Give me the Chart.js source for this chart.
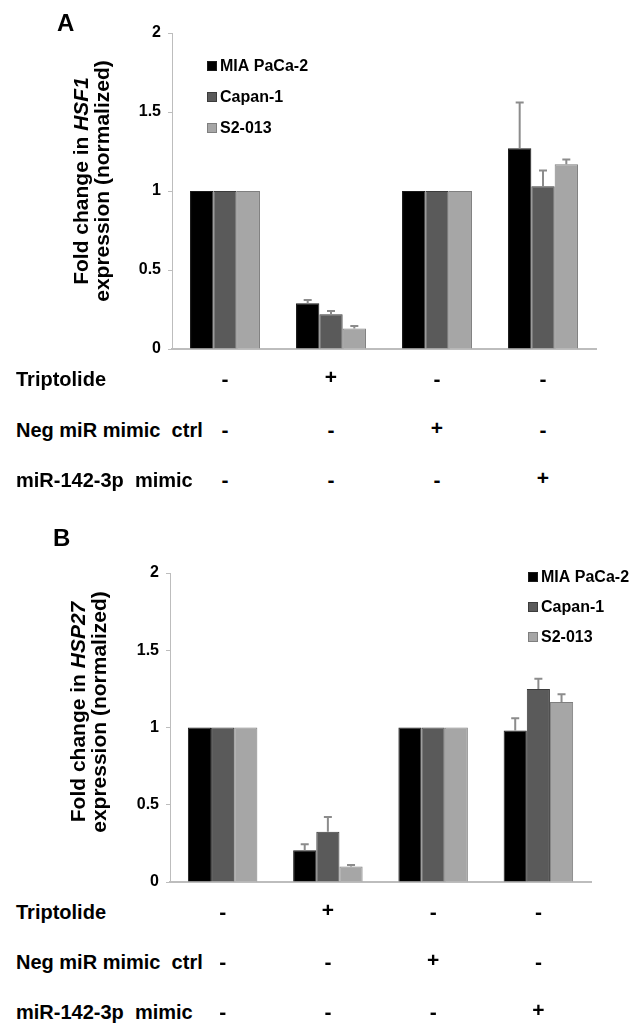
<!DOCTYPE html>
<html>
<head>
<meta charset="utf-8">
<script src="https://cdn.jsdelivr.net/npm/chart.js@4"></script>
<style>
  body { margin: 0; background: #fff; width: 638px; height: 1025px; position: relative; overflow: hidden;
         font-family: "Liberation Sans", Arial, sans-serif; font-weight: bold; color: #000; }
  .wrap { position: absolute; left: 0; width: 638px; }
  .letter { position: absolute; font-size: 24px; line-height: 24px; }
  .cell { position: absolute; font-size: 20px; line-height: 24px; white-space: pre; }
  .sign { position: absolute; width: 30px; text-align: center; font-size: 21px; line-height: 24px; }
</style>
</head>
<body>
<div class="wrap" style="top:0;height:370px"><canvas id="chartA"></canvas></div>
<div class="wrap" style="top:520px;height:380px"><canvas id="chartB"></canvas></div>
<div class="letter" style="left:57px;top:11px">A</div>
<div class="letter" style="left:53px;top:526px">B</div>
<div id="tableA"></div>
<div id="tableB"></div>
<script>
// data
let categories = ['Control', 'Triptolide', 'Neg miR mimic ctrl', 'miR-142-3p mimic'];
let cellLines = ['MIA PaCa-2', 'Capan-1', 'S2-013'];
let yTicks = ['0', '0.5', '1', '1.5', '2'];

let hsf1_mia = [1, 0.29, 1, 1.27];
let hsf1_capan = [1, 0.22, 1, 1.03];
let hsf1_s2 = [1, 0.13, 1, 1.17];
let hsf1_mia_err = [0, 0.02, 0, 0.29];
let hsf1_capan_err = [0, 0.02, 0, 0.10];
let hsf1_s2_err = [0, 0.015, 0, 0.03];

let hsp27_mia = [1, 0.205, 1, 0.98];
let hsp27_capan = [1, 0.325, 1, 1.25];
let hsp27_s2 = [1, 0.10, 1, 1.165];
let hsp27_mia_err = [0, 0.04, 0, 0.08];
let hsp27_capan_err = [0, 0.095, 0, 0.065];
let hsp27_s2_err = [0, 0.01, 0, 0.05];

let treatments = ['Triptolide', 'Neg miR mimic  ctrl', 'miR-142-3p  mimic'];
let treatmentSigns = [
    ['-', '+', '-', '-'],
    ['-', '-', '+', '-'],
    ['-', '-', '-', '+']
];

let fills = ['#000000', '#5a5a5a', '#a6a6a6'];
let borders = ['#1a1a1a', '#3c3c3c', '#7f7f7f'];
let axisGray = '#bdbdbd';
let FONT = '"Liberation Sans", Arial, sans-serif';

/** error bars on top of each bar **/
const errorBars = {
    id: 'errorBars',
    afterDatasetsDraw(chart) {
        let ctx = chart.ctx, yScale = chart.scales.y;
        ctx.save();
        ctx.strokeStyle = '#8c8c8c';
        ctx.lineWidth = 2;
        chart.data.datasets.forEach((ds, i) => {
            let meta = chart.getDatasetMeta(i);
            meta.data.forEach((bar, j) => {
                let err = ds.errors[j];
                if (!err) return;
                let yTop = yScale.getPixelForValue(ds.data[j] + err);
                ctx.beginPath();
                ctx.moveTo(bar.x, bar.y);
                ctx.lineTo(bar.x, yTop);
                ctx.moveTo(bar.x - 4, yTop);
                ctx.lineTo(bar.x + 4, yTop);
                ctx.stroke();
            });
        });
        ctx.restore();
    }
};

/** y title (gene name in italics) and legend **/
const decorations = {
    id: 'decorations',
    afterDraw(chart) {
        let ctx = chart.ctx, o = chart.options.plugins.decorations;
        ctx.save();
        // y axis title, two rotated lines
        ctx.translate(o.titleX, o.titleY);
        ctx.rotate(-Math.PI / 2);
        ctx.fillStyle = '#000';
        ctx.textBaseline = 'middle';
        let reg = 'bold 21px ' + FONT, ita = 'italic bold 21px ' + FONT;
        let p1 = 'Fold change in ', p2 = o.gene;
        ctx.font = reg;
        let w1 = ctx.measureText(p1).width;
        ctx.font = ita;
        let w2 = ctx.measureText(p2).width;
        let x0 = -(w1 + w2) / 2;
        ctx.textAlign = 'left';
        ctx.font = reg;
        ctx.fillText(p1, x0, 0);
        ctx.font = ita;
        ctx.fillText(p2, x0 + w1, 0);
        ctx.font = reg;
        ctx.textAlign = 'center';
        ctx.fillText('expression (normalized)', 0, o.lineGap);
        ctx.restore();

        // legend
        ctx.save();
        ctx.font = 'bold 16px ' + FONT;
        ctx.textBaseline = 'middle';
        chart.data.datasets.forEach((ds, i) => {
            let y = o.legendY + i * o.legendGap;
            ctx.fillStyle = ds.backgroundColor;
            ctx.fillRect(o.legendX, y - 5, 10, 10);
            ctx.strokeStyle = ds.borderColor;
            ctx.lineWidth = 1;
            ctx.strokeRect(o.legendX + 0.5, y - 4.5, 9, 9);
            ctx.fillStyle = '#000';
            ctx.fillText(ds.label, o.legendX + 13, y + 1);
        });
        ctx.restore();
    }
};

function makeChart(id, series, errors, deco, padding, yWidth) {
    let datasets = cellLines.map((name, i) => ({
        label: name,
        data: series[i],
        errors: errors[i],
        backgroundColor: fills[i],
        borderColor: borders[i],
        borderWidth: 1,
        categoryPercentage: 0.66,
        barPercentage: 1
    }));
    return new Chart(document.getElementById(id), {
        type: 'bar',
        data: { labels: categories, datasets: datasets },
        options: {
            responsive: true,
            maintainAspectRatio: false,
            animation: false,
            layout: { padding: padding },
            plugins: {
                legend: { display: false },
                tooltip: { enabled: false },
                decorations: deco
            },
            scales: {
                x: {
                    grid: { display: false },
                    border: { display: true, color: axisGray, width: 2 },
                    ticks: { display: false },
                    afterFit: s => { s.height = 0; }
                },
                y: {
                    min: 0, max: 2,
                    ticks: {
                        stepSize: 0.5,
                        padding: 7,
                        color: '#000',
                        font: { family: FONT, size: 16, weight: 'bold' },
                        callback: (v, i) => yTicks[i]
                    },
                    grid: { drawOnChartArea: false, drawTicks: true, tickLength: 4, color: axisGray },
                    border: { display: true, color: axisGray, width: 1 },
                    afterFit: s => { s.width = yWidth; }
                }
            }
        },
        plugins: [errorBars, decorations]
    });
}

let chartA = makeChart('chartA',
    [hsf1_mia, hsf1_capan, hsf1_s2],
    [hsf1_mia_err, hsf1_capan_err, hsf1_s2_err],
    { gene: 'HSF1', titleX: 82, titleY: 181, lineGap: 21, legendX: 207, legendY: 66, legendGap: 31 },
    { left: 0, top: 33, right: 42, bottom: 21 }, 172);

let chartB = makeChart('chartB',
    [hsp27_mia, hsp27_capan, hsp27_s2],
    [hsp27_mia_err, hsp27_capan_err, hsp27_s2_err],
    { gene: 'HSP27', titleX: 79, titleY: 192, lineGap: 21, legendX: 528, legendY: 57, legendGap: 30 },
    { left: 0, top: 53, right: 47, bottom: 18 }, 170);

/** treatment table under each chart, signs centred under each bar group **/
function makeTable(el, chart, rowYs) {
    let xScale = chart.scales.x;
    let html = '';
    treatments.forEach((t, r) => {
        let top = rowYs[r] - 12;
        html += '<div class="cell" style="left:16px;top:' + top + 'px">' + t + '</div>';
        treatmentSigns[r].forEach((s, c) => {
            let cx = xScale.getPixelForValue(c);
            html += '<div class="sign" style="left:' + (cx - 15) + 'px;top:' + (top - (s == '+' ? 2 : 0)) + 'px">' + s + '</div>';
        });
    });
    document.getElementById(el).innerHTML = html;
}
makeTable('tableA', chartA, [379, 430, 480]);
makeTable('tableB', chartB, [912, 962, 1012]);
</script>
</body>
</html>
